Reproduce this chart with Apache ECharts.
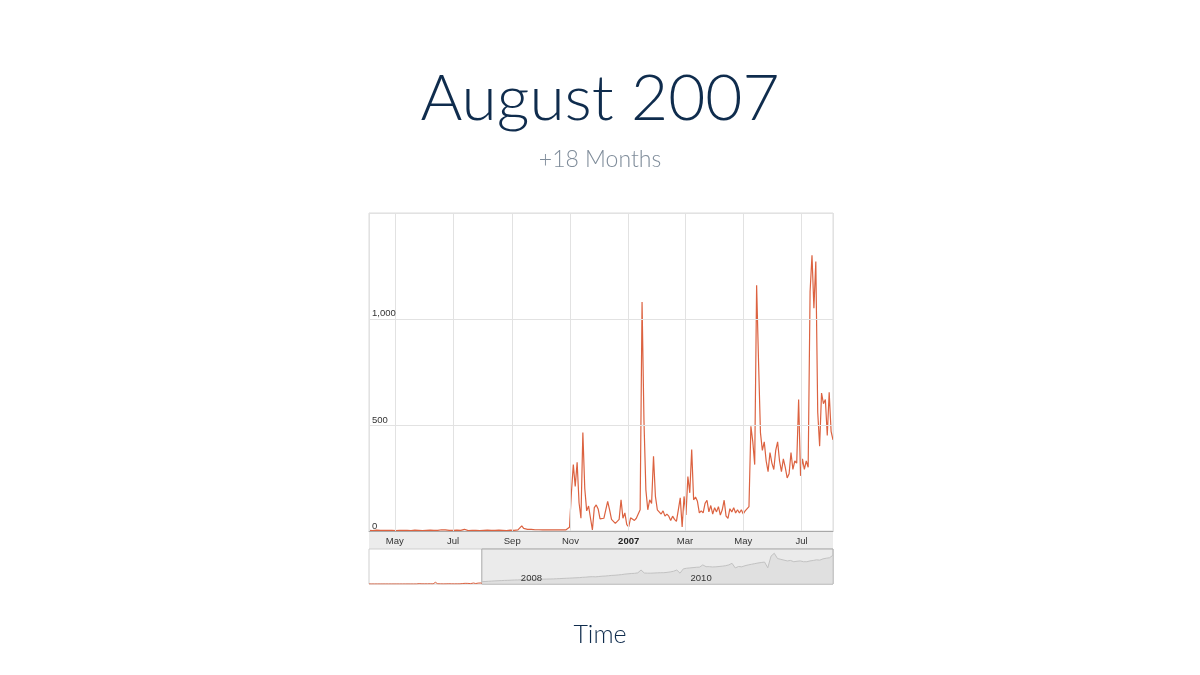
<!DOCTYPE html>
<html>
<head>
<meta charset="utf-8">
<script src="https://cdn.jsdelivr.net/npm/echarts@6/dist/echarts.min.js"></script>
<style>
  html, body { margin: 0; padding: 0; background: #fff; }
  #chart { width: 1200px; height: 675px; }
</style>
</head>
<body>
<div id="chart"></div>
<script>
// main series: one value every 2 days from 2006-04-04
var mainStart = '2006-04-04';
var mainEnd = '2007-08-03';
var mainStepDays = 2;
var mainValues = [
  3,3,2,3,4,3,3,2,3,3,
  3,4,3,3,2,3,3,4,3,3,
  3,3,2,3,4,8,3,3,2,3,
  3,3,4,3,3,2,3,4,6,15,
  5,3,3,2,3,3,4,3,3,3,
  8,3,2,3,3,4,3,3,2,3,
  3,3,4,3,3,2,3,3,4,3,
  3,3,2,3,4,
  3,3,4,5,8,
  24,12,18,8,14,8,12,6,10,6,
  8,5,6,5,6,5,8,5,6,5,
  4,5,6,5,8,
  18,180,313,210,324,
  133,60,464,200,95,118,60,5,110,123,
  104,57,66,60,100,140,100,55,50,36,
  40,55,147,60,85,30,20,62,55,50,
  60,66,100,1080,520,194,100,147,130,352,
  163,100,95,80,95,70,80,70,50,70,
  55,45,100,156,19,163,76,257,180,384,
  147,160,140,85,95,85,130,145,90,120,
  80,110,90,115,75,100,145,70,60,105,
  90,110,85,100,85,100,80,95,100,115,
  494,420,313,1158,800,464,380,420,330,280,
  370,320,290,380,420,330,280,340,300,250,
  270,370,290,330,320,620,260,340,290,330,
  300,1128,1300,1050,1270,560,400,650,600,620,
  450,654,470,430
];

// overview strip: one value every 14 days after the zoomed window
var navStart = '2007-08-03';
var navEnd = '2011-09-24';
var navStepDays = 14;
var navValues = [
  1450,1550,1700,1800,1950,2050,2150,2250,2300,2400,
  2500,2550,2650,2700,2800,2850,2900,2950,3000,3050,
  3100,3150,3200,3300,3400,3500,3600,3700,3800,3900,
  4000,4200,4300,4500,4600,4500,4700,4900,5000,5200,
  5400,5500,5700,5900,6200,6400,6600,6700,7000,8800,
  6900,6800,6800,6900,7000,7100,7100,7300,7600,8000,
  8800,6800,9500,9900,10100,10300,10500,10600,12000,10900,
  10900,10700,10800,11000,11200,11500,12000,13000,10100,11000,
  10800,11500,12000,12400,12800,13200,13500,13800,10200,17500,
  19300,16000,15500,15000,14500,14800,14000,14300,14500,14000,
  14000,14500,14800,15200,15000,15800,16200,16500,18000
];

var monthNames = ['Jan','Feb','Mar','Apr','May','Jun','Jul','Aug','Sep','Oct','Nov','Dec'];
var DAY = 24 * 3600 * 1000;

function toSeries(start, step, values) {
  var t0 = echarts.time.parse(start).getTime();
  var out = [];
  for (var i = 0; i < values.length; i++) {
    out.push([t0 + i * step * DAY, values[i]]);
  }
  return out;
}

var mainData = toSeries(mainStart, mainStepDays, mainValues);
var navData = toSeries(navStart, navStepDays, navValues);

var chart = echarts.init(document.getElementById('chart'));
var orange = '#dc6240';
var labelFont = 'Liberation Sans, Arial, sans-serif';

chart.setOption({
  backgroundColor: '#fff',
  animation: false,
  title: [
    { text: 'August 2007', left: 'center', top: 62,
      textStyle: { fontFamily: 'Lato', fontWeight: 300, fontSize: 64, color: '#0f2c4d' } },
    { text: '+18 Months', left: 'center', top: 143,
      textStyle: { fontFamily: 'Lato', fontWeight: 300, fontSize: 23, color: '#7f8c9a' } },
    { text: 'Time', left: 'center', top: 617,
      textStyle: { fontFamily: 'Lato', fontWeight: 300, fontSize: 25, color: '#0f2c4d' } }
  ],
  grid: [
    { left: 369, top: 213, width: 464, height: 318, show: true, borderColor: '#dcdcdc', borderWidth: 1 },
    { left: 369, top: 531, width: 464, height: 18, show: true, backgroundColor: '#ececec', borderWidth: 0 },
    { left: 369, top: 549, width: 464, height: 35, show: true, backgroundColor: '#fff', borderColor: '#cfcfcf', borderWidth: 1 }
  ],
  xAxis: [
    {
      type: 'time', gridIndex: 0, min: mainStart, max: mainEnd, z: 5,
      minInterval: 65 * DAY, maxInterval: 65 * DAY,
      axisLine: { lineStyle: { color: '#a8a8a8' } },
      axisTick: { show: false },
      splitLine: { show: true, lineStyle: { color: '#e2e2e2' } },
      axisLabel: {
        margin: 5, fontSize: 9.5, fontFamily: labelFont, color: '#333', hideOverlap: false,
        formatter: function (v) {
          var d = new Date(v);
          if (d.getMonth() === 0) return '{yr|' + d.getFullYear() + '}';
          return monthNames[d.getMonth()];
        },
        rich: { yr: { fontWeight: 'bold', fontSize: 9.5, fontFamily: labelFont, color: '#222' } }
      }
    },
    { type: 'value', gridIndex: 1, show: false, min: 0, max: 1 },
    {
      type: 'time', gridIndex: 2, min: mainStart, max: navEnd, z: 5,
      minInterval: 365 * DAY, maxInterval: 365 * DAY,
      axisLine: { show: false },
      axisTick: { show: false },
      splitLine: { show: false },
      axisLabel: {
        inside: true, margin: 1, align: 'left', padding: [0, 0, 0, 4],
        fontSize: 9.5, fontFamily: labelFont, color: '#333', hideOverlap: false,
        formatter: function (v) {
          var d = new Date(v);
          return (d.getMonth() === 0 && d.getFullYear() % 2 === 0) ? String(d.getFullYear()) : '';
        }
      }
    }
  ],
  yAxis: [
    {
      type: 'value', gridIndex: 0, min: 0, max: 1499, interval: 500,
      axisLine: { show: false },
      axisTick: { show: false },
      splitLine: { lineStyle: { color: '#e2e2e2' } },
      axisLabel: {
        inside: true, margin: 3, verticalAlign: 'bottom', showMaxLabel: false,
        fontSize: 9.5, fontFamily: labelFont, color: '#333',
        formatter: function (v) { return v.toLocaleString('en-US'); }
      },
      z: 5
    },
    { type: 'value', gridIndex: 1, show: false, min: 0, max: 1 },
    { type: 'value', gridIndex: 2, show: false, min: 0, max: 22000 }
  ],
  series: [
    {
      name: 'shade', type: 'line', xAxisIndex: 2, yAxisIndex: 2, data: [], z: 1,
      markArea: {
        silent: true,
        itemStyle: { color: '#ebebeb', borderColor: '#a9a9a9', borderWidth: 1 },
        data: [[{ xAxis: mainEnd }, { xAxis: navEnd }]]
      }
    },
    {
      name: 'overview', type: 'line', xAxisIndex: 2, yAxisIndex: 2, data: navData, z: 3,
      showSymbol: false,
      lineStyle: { color: '#c2c2c2', width: 1 },
      areaStyle: { color: '#dcdcdc' }
    },
    {
      name: 'window', type: 'line', xAxisIndex: 2, yAxisIndex: 2, data: mainData, z: 4,
      showSymbol: false,
      lineStyle: { color: orange, width: 1 }
    },
    {
      name: 'searches', type: 'line', xAxisIndex: 0, yAxisIndex: 0, data: mainData, z: 4,
      showSymbol: false,
      lineStyle: { color: orange, width: 1.2 }
    }
  ]
});
</script>
</body>
</html>
